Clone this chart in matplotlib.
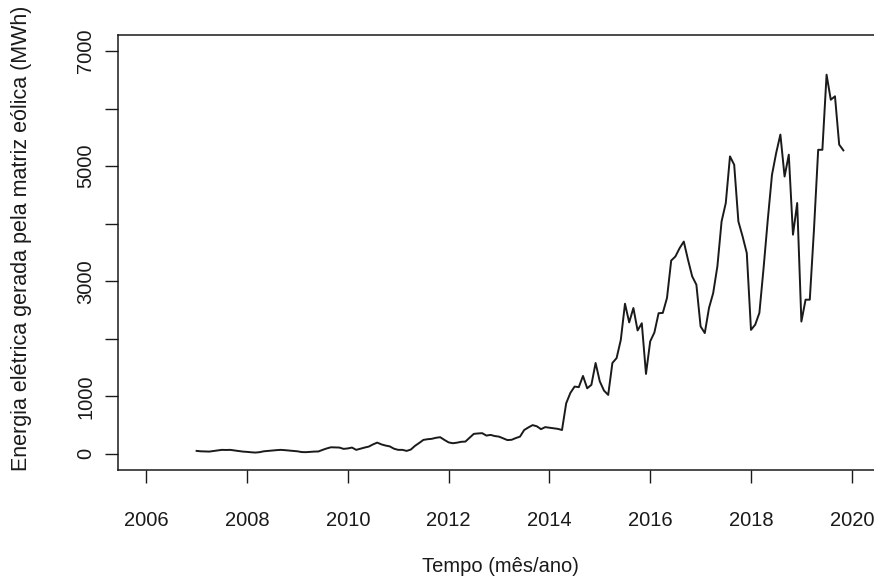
import numpy as np
import matplotlib
matplotlib.use("Agg")
import matplotlib.pyplot as plt

# monthly wind generation, Jan 2007 - Nov 2019 (MWh)
start_year = 2007
energia = [
    52, 45, 42, 40, 50, 60, 70, 68, 70, 60, 50, 40,             # 2007
    35, 28, 23, 30, 45, 52, 60, 65, 70, 65, 58, 52,             # 2008
    45, 32, 30, 35, 40, 42, 70, 95, 115, 112, 110, 87,          # 2009
    95, 110, 70, 90, 110, 127, 165, 196, 165, 145, 130, 90,     # 2010
    70, 70, 52, 75, 140, 190, 243, 255, 262, 280, 290, 243,     # 2011
    200, 185, 195, 210, 214, 280, 348, 355, 360, 318, 330, 310, # 2012
    300, 270, 240, 245, 275, 300, 415, 460, 500, 480, 430, 465, # 2013
    455, 445, 435, 415, 880, 1060, 1170, 1160, 1355, 1140, 1200, 1580,      # 2014
    1260, 1100, 1025, 1580, 1665, 1980, 2610, 2285, 2535, 2145, 2270, 1390, # 2015
    1955, 2110, 2445, 2450, 2710, 3360, 3430, 3575, 3690, 3375, 3085, 2940, # 2016
    2215, 2100, 2535, 2795, 3260, 4040, 4360, 5170, 5025, 4040, 3780, 3490, # 2017
    2155, 2245, 2450, 3230, 4070, 4850, 5230, 5550, 4820, 5200, 3810, 4360, # 2018
    2300, 2680, 2680, 3900, 5285, 5285, 6590, 6155, 6215, 5375, 5275,       # 2019
]
tempo = start_year + np.arange(len(energia)) / 12

x_ticks = [2006, 2008, 2010, 2012, 2014, 2016, 2018, 2020]
y_ticks = [0, 1000, 2000, 3000, 4000, 5000, 6000, 7000]
y_labels = ["0", "1000", "", "3000", "", "5000", "", "7000"]

plt.rcParams["font.family"] = ["Liberation Sans", "DejaVu Sans"]

W, H = 874, 581
fig = plt.figure(figsize=(W / 100, H / 100), dpi=100)
# plot region runs off the right edge, like the cropped original
ax = fig.add_axes([118 / W, (H - 470) / H, 762 / W, 435 / H])

ax.plot(tempo, energia, color="#1a1a1a", lw=1.4)

ax.set_xlim(2005.44, 2020.56)
ax.set_ylim(-280, 7280)

ax.set_xticks(x_ticks)
ax.set_yticks(y_ticks)
ax.set_yticklabels(y_labels, rotation=90, va="center")

for s in ax.spines.values():
    s.set_linewidth(1.1)
    s.set_color("#1a1a1a")

ax.tick_params(axis="both", direction="out", length=9.5, width=1.0,
               labelsize=14.5, colors="#1a1a1a")
ax.tick_params(axis="x", pad=20)
ax.tick_params(axis="y", pad=7)

fig.text(500 / W, 1 - 567 / H, "Tempo (mês/ano)", fontsize=14.5,
         ha="center", va="center", color="#1a1a1a")
fig.text(22 / W, 1 - 238 / H, "Energia elétrica gerada pela matriz eólica (MWh)",
         fontsize=15.5, rotation=90, ha="center", va="center", color="#1a1a1a")

fig.savefig("out.png", dpi=100)
